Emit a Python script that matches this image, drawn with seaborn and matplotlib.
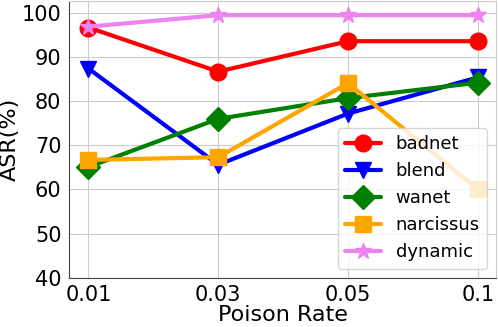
import numpy as np
import pandas as pd
import seaborn as sns
import matplotlib
matplotlib.use("Agg")
import matplotlib.pyplot as plt

# Data
poison_rates = ["0.01", "0.03", "0.05", "0.1"]
badnet = [96.7, 86.7, 93.6, 93.6]
blend = [87.4, 65.6, 77.2, 85.4]
wanet = [65.1, 76.0, 80.7, 84.2]
narcissus = [66.7, 67.3, 84.1, 60.0]
dynamic = [96.9, 99.5, 99.5, 99.5]

methods = ["badnet", "blend", "wanet", "narcissus", "dynamic"]
values = [badnet, blend, wanet, narcissus, dynamic]
colors = ["red", "blue", "green", "orange", "violet"]
markers = ["o", "v", "D", "s", "*"]

sns.set_style("whitegrid", {
    "axes.edgecolor": "#cccccc",
    "grid.color": "#cccccc",
    "text.color": "black",
    "axes.labelcolor": "black",
    "xtick.color": "black",
    "ytick.color": "black",
    "xtick.bottom": False,
    "ytick.left": False,
})
plt.rcParams["font.family"] = ["DejaVu Sans"]

fig = plt.figure(figsize=(4.98, 3.27), dpi=100)
ax = fig.add_axes([0.1386, 0.1508, 0.8574, 0.846])

xpos = np.arange(len(poison_rates))
for name, vals, c, m in zip(methods, values, colors, markers):
    df = pd.DataFrame({"rate": xpos, "asr": vals})
    sns.lineplot(data=df, x="rate", y="asr", color=c, marker=m,
                 markersize=12, linewidth=3, markeredgecolor=c,
                 markeredgewidth=1, label=name, ax=ax)

ax.set_xticks(xpos)
ax.set_xticklabels(poison_rates)
ax.set_xlim(-0.15, 3.14)
ax.set_ylim(40, 102.7)
ax.set_yticks([40, 50, 60, 70, 80, 90, 100])
ax.tick_params(labelsize=15, pad=2)
ax.set_xlabel("Poison Rate", fontsize=16, labelpad=0)
ax.set_ylabel("ASR(%)", fontsize=16, labelpad=1)
for side in ["left", "bottom"]:
    ax.spines[side].set_color("#444444")
ax.legend(loc="lower right", fontsize=13, framealpha=0.8,
          handlelength=2, borderaxespad=0.5)

fig.savefig("out.png", dpi=100)
